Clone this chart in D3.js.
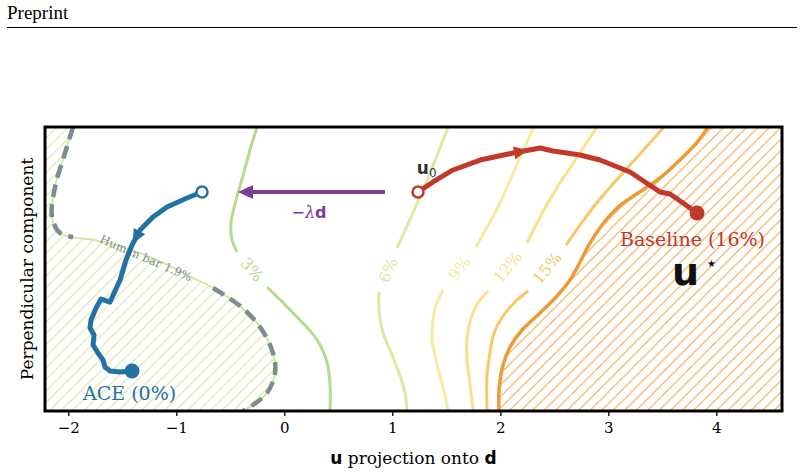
<!DOCTYPE html>
<html lang="en">
<head>
<meta charset="UTF-8">
<script src="https://cdn.jsdelivr.net/npm/d3@7"></script>
<title>Contours</title>
<style>
  body { margin: 0; background: #fff; }
  svg text { font-family: "DejaVu Serif", serif; }
  .sansb { font-family: "DejaVu Sans", sans-serif; font-weight: bold; }
</style>
</head>
<body>
<svg width="804" height="476" id="chart"></svg>
<script>
// ---- data ----
const xTicks = [-2, -1, 0, 1, 2, 3, 4];
const xDomain = [-2.216, 4.608];
const yDomain = [-1.315, 1.315];

const contourNames = ["3%", "6%", "9%", "12%", "15%"];
// each contour = [part before label, part after label]
const contour3 = [
  [[-0.253,1.315],[-0.318,1.102],[-0.382,0.870],[-0.447,0.639],[-0.494,0.426],[-0.484,0.269],[-0.438,0.157]],
  [[-0.160,-0.167],[0.081,-0.407],[0.303,-0.657],[0.395,-0.861],[0.423,-1.074],[0.423,-1.315]]
];
const contour6 = [
  [[1.516,1.315],[1.451,1.148],[1.368,0.935],[1.275,0.713],[1.182,0.500],[1.099,0.315],[1.044,0.194]],
  [[0.877,-0.213],[0.877,-0.398],[0.914,-0.593],[0.979,-0.750],[1.062,-0.963],[1.118,-1.148],[1.136,-1.315]]
];
const contour9 = [
  [[2.312,1.315],[2.247,1.176],[2.164,0.991],[2.071,0.778],[1.979,0.574],[1.877,0.389],[1.775,0.204]],
  [[1.469,-0.194],[1.405,-0.333],[1.377,-0.472],[1.368,-0.657],[1.405,-0.843],[1.451,-1.028],[1.488,-1.167],[1.516,-1.315]]
];
const contour12 = [
  [[2.895,1.315],[2.784,1.148],[2.664,0.963],[2.534,0.769],[2.414,0.565],[2.321,0.389],[2.247,0.241]],
  [[1.886,-0.204],[1.794,-0.315],[1.729,-0.454],[1.692,-0.639],[1.692,-0.843],[1.720,-1.074],[1.748,-1.315]]
];
const contour15 = [
  [[3.516,1.315],[3.368,1.148],[3.201,0.963],[3.034,0.778],[2.877,0.593],[2.738,0.407],[2.608,0.222]],
  [[2.257,-0.204],[2.136,-0.306],[2.025,-0.435],[1.942,-0.593],[1.905,-0.769],[1.877,-0.981],[1.877,-1.315]]
];
// baseline level (unlabelled, hatched to the right)
const contourBaseline = [[1.988,-1.315],[1.988,-1.120],[2.025,-0.889],[2.090,-0.722],[2.201,-0.565],[2.368,-0.407],
  [2.516,-0.259],[2.645,-0.102],[2.738,0.065],[2.831,0.241],[2.942,0.407],[3.081,0.565],[3.247,0.685],
  [3.479,0.843],[3.710,1.056],[3.831,1.185],[3.923,1.315]];
// human bar 1.9% (hatched to the left)
const humanBar = [[-1.956,1.315],[-2.031,1.074],[-2.123,0.759],[-2.151,0.481],[-2.077,0.333],[-1.956,0.296],
  [-1.706,0.259],[-1.336,0.148],[-1.058,0.028],[-0.845,-0.083],[-0.660,-0.176],[-0.410,-0.343],[-0.225,-0.537],
  [-0.105,-0.778],[-0.086,-0.963],[-0.160,-1.148],[-0.290,-1.259],[-0.382,-1.315]];
const humanBarLabel = "Human bar 1.9%";

const acePath = [[-0.762,0.713],[-0.901,0.657],[-1.086,0.574],[-1.216,0.481],[-1.336,0.361],[-1.410,0.222],
  [-1.466,0.083],[-1.521,-0.102],[-1.614,-0.306],[-1.697,-0.278],[-1.743,-0.361],[-1.790,-0.472],[-1.799,-0.546],
  [-1.762,-0.611],[-1.771,-0.704],[-1.725,-0.778],[-1.679,-0.843],[-1.660,-0.907],[-1.614,-0.944],[-1.521,-0.954],[-1.410,-0.944]];
const baselinePath = [[1.238,0.713],[1.377,0.806],[1.562,0.917],[1.812,1.009],[2.118,1.074],[2.368,1.120],[2.488,1.093],
  [2.738,1.056],[2.923,1.009],[3.201,0.898],[3.479,0.713],[3.571,0.694],[3.692,0.611],[3.757,0.565],[3.821,0.519]];
const pushArrow = [[0.932,0.713],[-0.429,0.713]];
const uStar = [3.589,-0.148];

// ---- layout ----
const svg = d3.select("#chart");
const pLeft = 45, pRight = 782, pTop = 127, pBottom = 411;
const x = d3.scaleLinear().domain(xDomain).range([pLeft, pRight]);
const y = d3.scaleLinear().domain(yDomain).range([pBottom, pTop]);

// header
svg.append("text").text("Preprint").attr("x", 7).attr("y", 19)
  .style("font-family", "'Liberation Serif', serif").style("font-size", "19px");
svg.append("line").attr("x1", 7).attr("x2", 797).attr("y1", 27.5).attr("y2", 27.5)
  .attr("stroke", "#000").attr("stroke-width", 1);

const defs = svg.append("defs");
defs.append("clipPath").attr("id", "clip").append("rect")
  .attr("x", pLeft).attr("y", pTop).attr("width", pRight - pLeft).attr("height", pBottom - pTop);
function hatch(id, color) {
  const s = 11.5;
  defs.append("pattern").attr("id", id).attr("patternUnits", "userSpaceOnUse")
    .attr("width", s).attr("height", s)
    .append("path")
    .attr("d", `M0,${s} L${s},0 M${-s/2},${s/2} L${s/2},${-s/2} M${s/2},${s*1.5} L${s*1.5},${s/2}`)
    .attr("stroke", color).attr("stroke-width", 1);
}
hatch("hatchGreen", "#d3e59c");
hatch("hatchOrange", "#f0a03c");

const plot = svg.append("g").attr("clip-path", "url(#clip)");
const smooth = d3.line().x(d => x(d[0])).y(d => y(d[1])).curve(d3.curveCatmullRom.alpha(0.5));
const straight = d3.line().x(d => x(d[0])).y(d => y(d[1]));

// hatched regions
plot.append("path")
  .attr("d", smooth(humanBar) + `L${x(xDomain[0])},${y(yDomain[0])}L${x(xDomain[0])},${y(yDomain[1])}Z`)
  .attr("fill", "url(#hatchGreen)");
plot.append("path")
  .attr("d", smooth(contourBaseline) + `L${x(xDomain[1])},${y(yDomain[1])}L${x(xDomain[1])},${y(yDomain[0])}Z`)
  .attr("fill", "url(#hatchOrange)");

// contour lines with inline labels
const contours = [contour3, contour6, contour9, contour12, contour15];
const colors = ["#b3dc8e", "#dceaa0", "#f1eea2", "#fbe08c", "#f8c868"];
contours.forEach((c, i) => {
  c.forEach(seg => {
    plot.append("path").attr("d", smooth(seg)).attr("fill", "none")
      .attr("stroke", colors[i]).attr("stroke-width", 3);
  });
  const a = c[0][c[0].length - 1], b = c[1][0];
  const px = (x(a[0]) + x(b[0])) / 2, py = (y(a[1]) + y(b[1])) / 2;
  let ang = Math.atan2(y(b[1]) - y(a[1]), x(b[0]) - x(a[0])) * 180 / Math.PI;
  if (ang > 90) ang -= 180;
  if (ang < -90) ang += 180;
  plot.append("text").text(contourNames[i])
    .attr("transform", `translate(${px},${py}) rotate(${ang})`)
    .attr("text-anchor", "middle").attr("dy", "0.35em")
    .style("font-size", "16px").attr("fill", colors[i]);
});
plot.append("path").attr("d", smooth(contourBaseline)).attr("fill", "none")
  .attr("stroke", "#ee9a36").attr("stroke-width", 3.5);

// human bar
plot.append("path").attr("d", smooth(humanBar)).attr("fill", "none")
  .attr("stroke", "#d3e59c").attr("stroke-width", 1.8);
[humanBar.slice(0, 6), humanBar.slice(10)].forEach(seg => {
  plot.append("path").attr("d", smooth(seg)).attr("fill", "none")
    .attr("stroke", "#7f8c8d").attr("stroke-width", 4.5)
    .attr("stroke-dasharray", "13,7");
});
{
  const a = humanBar[7], b = humanBar[8];
  const ang = Math.atan2(y(b[1]) - y(a[1]), x(b[0]) - x(a[0])) * 180 / Math.PI;
  plot.append("text").text(humanBarLabel)
    .attr("transform", `translate(${x(-1.281)},${y(0.102)}) rotate(${ang})`)
    .attr("text-anchor", "middle").attr("dy", "0.35em")
    .style("font-size", "11.5px").attr("fill", "#7f8c8d");
}

// arrow head helper (pixel space)
function head(g, p0, p1, t, color, len, wid) {
  const ax = x(p0[0]) + (x(p1[0]) - x(p0[0])) * t, ay = y(p0[1]) + (y(p1[1]) - y(p0[1])) * t;
  const ang = Math.atan2(y(p1[1]) - y(p0[1]), x(p1[0]) - x(p0[0]));
  const ux = Math.cos(ang), uy = Math.sin(ang);
  const bx = ax - ux * len, by = ay - uy * len;
  g.append("path")
    .attr("d", `M${ax},${ay}L${bx - uy * wid / 2},${by + ux * wid / 2}L${bx + uy * wid / 2},${by - ux * wid / 2}Z`)
    .attr("fill", color);
}

// push arrow (-lambda d)
plot.append("path").attr("d", straight([pushArrow[0], [pushArrow[1][0] + 0.1, pushArrow[1][1]]]))
  .attr("stroke", "#7d3c98").attr("stroke-width", 4).attr("fill", "none");
head(plot, pushArrow[0], pushArrow[1], 1, "#7d3c98", 15, 14);
const lam = svg.append("text").attr("x", x(0.229)).attr("y", y(0.47)).attr("text-anchor", "middle")
  .style("font-size", "16px").attr("fill", "#7d3c98");
lam.append("tspan").text("\u2212").style("font-family", "'DejaVu Sans', sans-serif");
lam.append("tspan").text("\u03bb").style("font-family", "'DejaVu Serif', serif").style("font-style", "italic");
lam.append("tspan").text("d").attr("class", "sansb");

// trajectories
function trajectory(pts, color, arrowIdx, arrowT) {
  plot.append("path").attr("d", straight(pts)).attr("fill", "none")
    .attr("stroke", color).attr("stroke-width", 5)
    .attr("stroke-linejoin", "round").attr("stroke-linecap", "round");
  head(plot, pts[arrowIdx], pts[arrowIdx + 1], arrowT, color, 14, 13);
  plot.append("circle").attr("cx", x(pts[0][0])).attr("cy", y(pts[0][1])).attr("r", 5.5)
    .attr("fill", "#fff").attr("stroke", color).attr("stroke-width", 2.5);
  const e = pts[pts.length - 1];
  plot.append("circle").attr("cx", x(e[0])).attr("cy", y(e[1])).attr("r", 7.5).attr("fill", color);
}
trajectory(acePath, "#2471a3", 4, 0.9);
trajectory(baselinePath, "#c0392b", 4, 0.55);

// labels
svg.append("text").text("ACE (0%)").attr("x", x(-1.864)).attr("y", y(-1.213))
  .style("font-size", "19px").attr("fill", "#2471a3");
svg.append("text").text("Baseline (16%)").attr("x", x(3.108)).attr("y", y(0.213))
  .style("font-size", "19px").attr("fill", "#c0392b");
const u0 = svg.append("text").attr("x", x(1.227)).attr("y", y(0.88)).attr("fill", "#333");
u0.append("tspan").text("u").attr("class", "sansb").style("font-size", "17px");
u0.append("tspan").text("0").style("font-family", "'DejaVu Sans', sans-serif").style("font-size", "12px").attr("dy", 3);
const us = svg.append("text").attr("x", x(uStar[0])).attr("y", y(uStar[1])).attr("fill", "#111");
us.append("tspan").text("u").attr("class", "sansb").style("font-size", "38px");
us.append("tspan").text("\u2605").style("font-family", "'DejaVu Sans', sans-serif").style("font-size", "10px").attr("dx", 8).attr("dy", -18);

// x axis
const axis = d3.axisBottom(x).tickValues(xTicks).tickFormat(d3.format("d"))
  .tickSizeOuter(0).tickSize(5).tickPadding(6);
const ga = svg.append("g").attr("transform", `translate(0,${pBottom})`).call(axis);
ga.select(".domain").remove();
ga.selectAll(".tick line").attr("stroke", "#000").attr("stroke-width", 1.3);
ga.selectAll(".tick text").style("font-family", "'DejaVu Serif', serif").style("font-size", "15px").attr("fill", "#000");

// frame
svg.append("rect").attr("x", pLeft).attr("y", pTop).attr("width", pRight - pLeft).attr("height", pBottom - pTop)
  .attr("fill", "none").attr("stroke", "#000").attr("stroke-width", 3);

// axis titles
const xl = svg.append("text").attr("x", (pLeft + pRight) / 2).attr("y", 464).attr("text-anchor", "middle")
  .style("font-size", "17px");
xl.append("tspan").text("u").attr("class", "sansb");
xl.append("tspan").text(" projection onto ");
xl.append("tspan").text("d").attr("class", "sansb");
svg.append("text").text("Perpendicular component")
  .attr("transform", `translate(33,${(pTop + pBottom) / 2}) rotate(-90)`)
  .attr("text-anchor", "middle").style("font-size", "17px");
</script>
</body>
</html>
